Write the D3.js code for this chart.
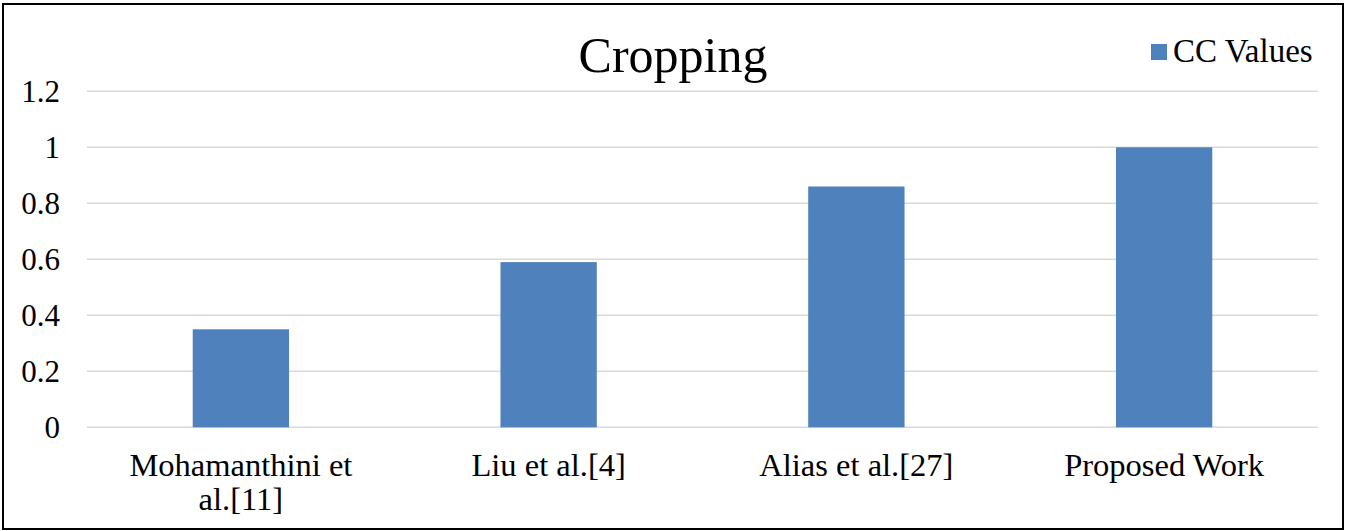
<!DOCTYPE html>
<html>
<head>
<meta charset="utf-8">
<script src="https://cdn.jsdelivr.net/npm/d3@7"></script>
<style>
  html, body { margin: 0; padding: 0; background: #fff; }
  svg { display: block; }
  text { font-family: "Liberation Serif", "Times New Roman", serif; fill: #000; }
</style>
</head>
<body>
<svg id="chart" width="1346" height="531"></svg>
<script>
// Chart data
const categories = ["Mohamanthini et al.[11]", "Liu et al.[4]", "Alias et al.[27]", "Proposed Work"];
const ccValues = [0.35, 0.59, 0.86, 1.0];
const yTicks = [0, 0.2, 0.4, 0.6, 0.8, 1, 1.2];
const seriesName = "CC Values";
const titleText = "Cropping";

const W = 1346, H = 531;
const plot = { left: 87, right: 1318, top: 91.3, bottom: 427.3 };
const barColor = "#4F81BD";
const gridColor = "#d9d9d9";

const svg = d3.select("#chart");

// Outer chart frame
svg.append("rect")
  .attr("x", 3).attr("y", 4)
  .attr("width", 1340).attr("height", 525)
  .attr("fill", "#fff")
  .attr("stroke", "#000")
  .attr("stroke-width", 2);

const x = d3.scaleBand()
  .domain(categories)
  .range([plot.left, plot.right])
  .paddingInner(0.687)
  .paddingOuter(0.3435);

const y = d3.scaleLinear()
  .domain([0, 1.2])
  .range([plot.bottom, plot.top]);

// Horizontal gridlines
svg.append("g")
  .selectAll("line")
  .data(yTicks)
  .join("line")
  .attr("x1", plot.left).attr("x2", plot.right)
  .attr("y1", d => y(d)).attr("y2", d => y(d))
  .attr("stroke", gridColor)
  .attr("stroke-width", 1.5);

// Y axis labels
svg.append("g")
  .selectAll("text")
  .data(yTicks)
  .join("text")
  .attr("x", 60)
  .attr("y", d => y(d) + 10.5)
  .attr("text-anchor", "end")
  .style("font-size", "31px")
  .text(d => d3.format("~g")(d));

// Bars
svg.append("g")
  .selectAll("rect")
  .data(categories.map((c, i) => ({ c, v: ccValues[i] })))
  .join("rect")
  .attr("x", d => x(d.c))
  .attr("y", d => y(d.v))
  .attr("width", x.bandwidth())
  .attr("height", d => y(0) - y(d.v))
  .attr("fill", barColor);

// Category labels, wrapped to the category width
const step = x.step();
const catG = svg.append("g");
categories.forEach(c => {
  const cx = x(c) + x.bandwidth() / 2;
  const t = catG.append("text")
    .attr("x", cx)
    .attr("y", 476)
    .attr("text-anchor", "middle")
    .style("font-size", "32.5px");
  const words = c.split(" ");
  let line = [];
  let tspan = t.append("tspan").attr("x", cx).attr("dy", 0);
  words.forEach(w => {
    line.push(w);
    tspan.text(line.join(" "));
    if (tspan.node().getComputedTextLength() > step - 10 && line.length > 1) {
      line.pop();
      tspan.text(line.join(" "));
      line = [w];
      tspan = t.append("tspan").attr("x", cx).attr("dy", 34).text(w);
    }
  });
});

// Title
svg.append("text")
  .attr("x", 673)
  .attr("y", 72)
  .attr("text-anchor", "middle")
  .style("font-size", "50px")
  .text(titleText);

// Legend
const lg = svg.append("g");
lg.append("rect")
  .attr("x", 1151).attr("y", 44)
  .attr("width", 16).attr("height", 16)
  .attr("fill", barColor);
lg.append("text")
  .attr("x", 1173).attr("y", 62)
  .style("font-size", "33px")
  .text(seriesName);
</script>
</body>
</html>
